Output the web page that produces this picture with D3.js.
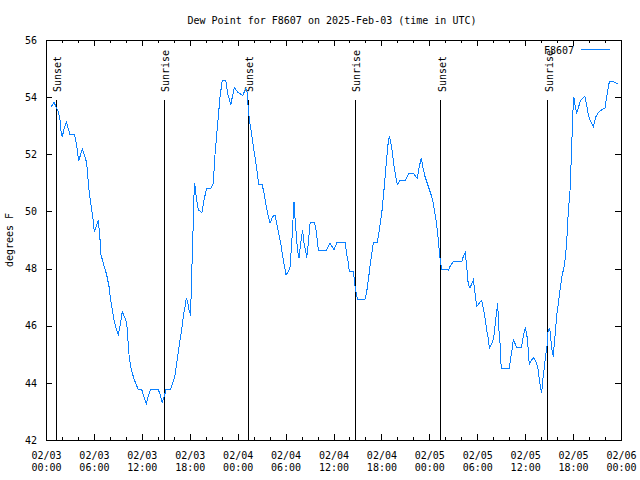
<!DOCTYPE html>
<html><head><meta charset="utf-8">
<script src="https://cdn.jsdelivr.net/npm/d3@7/dist/d3.min.js"></script>
<style>
body{margin:0;background:#fff}
text{font-family:"DejaVu Sans Mono","Liberation Mono",monospace;font-size:10px;fill:#000}
</style>
</head><body>
<svg id="chart" width="640" height="480"></svg>
<script>
const chartTitle = "Dew Point for F8607 on 2025-Feb-03 (time in UTC)";
const seriesName = "F8607";
const yAxisLabel = "degrees F";
const startUTC = Date.UTC(2025, 1, 3, 0, 0);
const endUTC = Date.UTC(2025, 1, 6, 0, 0);
// hours since 2025-02-03 00:00 UTC
const hours = [0.59,1.00,1.29,1.54,1.75,1.84,2.04,2.25,2.54,3.01,3.59,3.84,4.09,4.55,4.88,5.10,5.38,5.60,5.85,6.05,
6.55,6.72,6.89,7.18,7.60,7.89,8.10,8.30,8.51,8.77,9.05,9.30,9.55,9.89,10.11,10.23,10.43,10.61,10.93,11.23,
11.56,11.98,12.27,12.56,12.81,13.11,14.06,14.31,14.56,14.81,15.03,15.56,15.87,16.15,16.37,16.57,16.78,16.99,17.19,17.41,
17.57,17.74,17.91,18.12,18.16,18.28,18.41,18.50,18.62,18.75,19.07,19.53,19.78,20.12,20.62,20.95,21.16,21.37,21.58,21.79,
22.08,22.50,22.75,23.13,23.58,23.95,24.63,25.01,25.21,25.33,25.54,25.76,25.96,26.21,26.46,26.63,27.08,27.30,27.51,27.71,
28.05,28.39,28.68,28.89,29.09,29.39,29.59,29.80,30.05,30.34,30.55,30.77,31.05,31.18,31.39,31.52,31.68,31.89,32.12,32.31,
32.56,32.64,32.85,33.06,33.18,33.60,33.81,34.02,34.10,35.15,35.56,36.06,36.40,37.48,37.65,37.85,37.98,38.48,38.61,38.73,
38.91,39.03,39.94,40.16,40.36,40.57,40.78,40.98,41.48,41.61,42.04,42.32,42.57,42.82,42.99,43.16,43.36,43.58,43.79,43.99,
44.33,44.95,45.45,45.99,46.49,46.74,46.99,47.25,47.46,47.75,48.17,48.42,48.62,48.84,49.00,49.12,49.25,49.42,49.55,50.38,
50.59,51.00,52.05,52.25,52.50,52.68,52.88,53.09,53.31,53.51,53.72,53.93,54.13,54.35,54.56,54.76,54.97,55.18,55.38,55.51,
55.72,55.93,56.10,56.22,56.35,56.56,56.68,56.85,56.94,57.01,58.01,58.19,58.35,58.52,58.73,58.94,59.52,59.69,59.85,60.02,
60.19,60.32,60.40,60.52,60.69,61.02,61.23,61.44,61.65,61.77,61.95,62.07,62.20,62.36,62.48,62.61,62.73,62.82,62.95,63.07,
63.20,63.36,63.52,63.65,63.77,63.95,64.11,64.27,64.45,64.61,64.78,64.95,65.08,65.20,65.40,65.61,65.74,65.86,65.99,66.08,
66.24,66.45,66.65,66.87,67.16,67.49,67.70,67.90,68.12,68.53,68.87,69.25,69.66,70.00,70.21,70.54,71.04,71.46,71.66];
const dewPointF = [53.64,53.82,53.64,53.49,53.20,52.85,52.62,52.87,53.14,52.68,52.68,52.33,51.77,52.19,51.92,51.69,50.75,50.28,49.82,49.29,
49.68,49.21,48.48,48.18,47.78,47.37,46.90,46.55,46.20,45.91,45.67,46.02,46.49,46.26,46.08,45.62,44.86,44.57,44.22,43.98,
43.77,43.77,43.52,43.28,43.54,43.77,43.77,43.57,43.31,43.52,43.77,43.77,43.98,44.27,44.68,45.09,45.50,45.85,46.32,46.67,
46.98,46.84,46.55,46.35,46.96,48.13,49.35,50.40,50.98,50.63,50.05,49.96,50.40,50.81,50.81,50.98,51.98,52.68,53.32,54.02,
54.60,54.60,54.13,53.73,54.34,54.19,54.05,54.31,54.13,53.55,53.08,52.68,52.27,51.86,51.33,50.93,50.93,50.63,50.28,49.99,
49.58,49.82,49.88,49.58,49.29,48.88,48.53,48.18,47.78,47.89,48.04,48.88,50.34,49.76,49.00,48.59,48.36,48.88,49.35,48.90,
48.53,48.36,48.88,49.58,49.62,49.62,49.35,48.88,48.65,48.65,48.90,48.65,48.90,48.90,48.48,48.24,47.89,47.89,47.60,47.31,
47.02,46.92,46.92,47.19,47.60,48.07,48.48,48.90,48.90,49.12,49.93,50.75,51.57,52.33,52.64,52.44,52.09,51.57,51.22,50.93,
51.08,51.08,51.33,51.33,51.16,51.57,51.86,51.47,51.22,50.98,50.63,50.40,50.05,49.70,49.35,49.00,48.59,48.18,47.97,47.95,
48.07,48.24,48.24,48.42,48.56,48.07,47.43,47.31,47.48,47.60,47.13,46.67,46.73,46.84,46.88,46.61,46.26,45.85,45.56,45.21,
45.33,45.44,45.68,45.97,46.32,46.78,45.97,45.38,44.80,44.51,44.51,44.86,45.15,45.50,45.38,45.23,45.23,45.50,45.73,45.91,
45.73,45.38,45.09,44.62,44.74,44.89,44.80,44.68,44.45,44.10,43.81,43.63,44.10,44.45,44.74,45.03,45.27,45.73,45.85,45.91,
45.56,45.15,44.92,45.38,45.73,46.38,46.67,47.02,47.43,47.72,47.95,48.18,48.53,48.94,49.99,50.69,51.63,52.56,53.55,54.02,
53.73,53.43,53.61,53.84,53.96,54.02,53.73,53.38,53.20,52.97,53.32,53.49,53.57,53.61,54.02,54.54,54.54,54.48,54.50];
const sunHours = [1.29, 14.81, 25.33, 38.73, 49.42, 62.82];
const sunLabels = ["Sunset", "Sunrise", "Sunset", "Sunrise", "Sunset", "Sunrise"];
const yTickValues = [42, 44, 46, 48, 50, 52, 54, 56];
const yDomain = [42, 56];

const HOUR = 3600e3;
const data = hours.map((h, i) => ({ t: new Date(startUTC + h * HOUR), v: dewPointF[i] }));

const svg = d3.select("#chart");
const L = 46, R = 621, T = 40, B = 440;
const x = d3.scaleUtc().domain([new Date(startUTC), new Date(endUTC)]).range([L, R]);
const y = d3.scaleLinear().domain(yDomain).range([B, T]);

const majorTicks = d3.utcHour.every(6).range(new Date(startUTC), new Date(endUTC + 1));
const minorTicks = d3.utcHour.every(2).range(new Date(startUTC), new Date(endUTC + 1));

function styleAxis(g) {
  g.select(".domain").remove();
  g.selectAll(".tick line").attr("stroke", "#000").attr("shape-rendering", "crispEdges");
  g.selectAll("text").attr("font-family", null).attr("font-size", null);
}

// bottom axis: minor + major ticks (inward)
svg.append("g").attr("transform", `translate(0,${B})`)
  .call(d3.axisBottom(x).tickValues(minorTicks).tickSize(-3).tickFormat(""))
  .call(styleAxis);
const bottom = svg.append("g").attr("transform", `translate(0,${B})`)
  .call(d3.axisBottom(x).tickValues(majorTicks).tickSize(-6).tickPadding(12))
  .call(styleAxis);
bottom.selectAll(".tick text").each(function (d) {
  const t = d3.select(this).text(null).attr("y", 0);
  t.append("tspan").attr("x", 0).attr("y", 18.5).text(d3.utcFormat("%m/%d")(d));
  t.append("tspan").attr("x", 0).attr("y", 30.5).text(d3.utcFormat("%H:%M")(d));
}).attr("dy", null);

// top axis
svg.append("g").attr("transform", `translate(0,${T})`)
  .call(d3.axisTop(x).tickValues(minorTicks).tickSize(-3).tickFormat(""))
  .call(styleAxis);
svg.append("g").attr("transform", `translate(0,${T})`)
  .call(d3.axisTop(x).tickValues(majorTicks).tickSize(-6).tickFormat(""))
  .call(styleAxis);

// left axis
svg.append("g").attr("transform", `translate(${L},0)`)
  .call(d3.axisLeft(y).tickValues(yTickValues).tickSize(-6).tickPadding(9).tickFormat(d3.format("d")))
  .call(styleAxis);
// right axis
svg.append("g").attr("transform", `translate(${R},0)`)
  .call(d3.axisRight(y).tickValues(yTickValues).tickSize(-6).tickFormat(""))
  .call(styleAxis);

// border
svg.append("rect").attr("x", L).attr("y", T).attr("width", R - L).attr("height", B - T)
  .attr("fill", "none").attr("stroke", "#000").attr("shape-rendering", "crispEdges");

// sunrise / sunset markers
const sunG = svg.append("g");
const lineTop = B - 0.85 * (B - T);
const labelY = B - 0.87 * (B - T);
sunHours.forEach((h, i) => {
  const xx = x(new Date(startUTC + h * HOUR));
  sunG.append("line").attr("x1", xx).attr("x2", xx).attr("y1", B).attr("y2", lineTop)
    .attr("stroke", "#000").attr("shape-rendering", "crispEdges");
  sunG.append("text").attr("transform", `translate(${xx},${labelY}) rotate(-90)`)
    .attr("dy", 5).attr("text-anchor", "start").text(sunLabels[i]);
});

// data line (aliased 1px like the reference)
const line = d3.line().x(d => x(d.t)).y(d => y(d.v));
svg.append("path").datum(data).attr("d", line)
  .attr("fill", "none").attr("stroke", "#0a80ff").attr("stroke-width", 1)
  .attr("shape-rendering", "crispEdges");

// legend
svg.append("text").attr("x", 574).attr("y", 53.5).attr("text-anchor", "end").text(seriesName);
svg.append("line").attr("x1", 581).attr("x2", 610).attr("y1", 49.5).attr("y2", 49.5)
  .attr("stroke", "#0a80ff").attr("shape-rendering", "crispEdges");

// title
svg.append("text").attr("x", 332).attr("y", 24).attr("text-anchor", "middle").text(chartTitle);
// y label
svg.append("text").attr("transform", `translate(13,240) rotate(-90)`).attr("text-anchor", "middle").text(yAxisLabel);
</script>
</body></html>
